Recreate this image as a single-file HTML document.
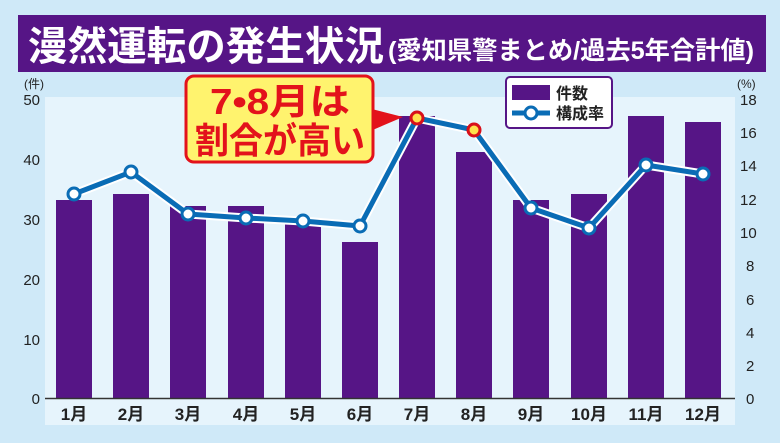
<!DOCTYPE html>
<html><head><meta charset="utf-8"><style>
html,body{margin:0;padding:0;}
body{width:780px;height:438px;overflow:hidden;background:#cfe9f8;}
svg text{font-family:"Liberation Sans","Noto Sans CJK JP",sans-serif;}
</style></head><body>
<svg width="780" height="438" viewBox="0 0 780 438" xmlns="http://www.w3.org/2000/svg">
<rect x="0" y="0" width="780" height="438" fill="#cfe9f8"/>
<rect x="18" y="15" width="748" height="57" fill="#561586"/>
<text x="28" y="60" font-size="40" font-weight="bold" fill="#fff" textLength="356" lengthAdjust="spacingAndGlyphs">漫然運転の発生状況</text>
<text x="388" y="59" font-size="25" font-weight="bold" fill="#fff" textLength="366" lengthAdjust="spacingAndGlyphs">(愛知県警まとめ/過去5年合計値)</text>
<rect x="45" y="97" width="690" height="328" fill="#e6f4fc"/>
<g fill="#561586">
<rect x="56" y="200" width="36" height="198"/>
<rect x="113" y="194" width="36" height="204"/>
<rect x="170" y="206" width="36" height="192"/>
<rect x="228" y="206" width="36" height="192"/>
<rect x="285" y="224" width="36" height="174"/>
<rect x="342" y="242" width="36" height="156"/>
<rect x="399" y="116" width="36" height="282"/>
<rect x="456" y="152" width="36" height="246"/>
<rect x="513" y="200" width="36" height="198"/>
<rect x="571" y="194" width="36" height="204"/>
<rect x="628" y="116" width="36" height="282"/>
<rect x="685" y="122" width="36" height="276"/>
</g>
<line x1="45" y1="398.5" x2="735" y2="398.5" stroke="#333" stroke-width="1.5"/>
<g font-size="15" fill="#222" text-anchor="end">
<text x="24" y="88" font-size="12" text-anchor="start">(件)</text>
<text x="40" y="105">50</text><text x="40" y="165">40</text><text x="40" y="225">30</text><text x="40" y="285">20</text><text x="40" y="345">10</text><text x="40" y="404">0</text>
</g>
<g font-size="15" fill="#222" text-anchor="start">
<text x="737" y="88" font-size="12">(%)</text>
<text x="740" y="105">18</text><text x="740" y="138">16</text><text x="740" y="171">14</text><text x="740" y="205">12</text><text x="740" y="238">10</text><text x="746" y="271">8</text><text x="746" y="305">6</text><text x="746" y="338">4</text><text x="746" y="371">2</text><text x="746" y="404">0</text>
</g>
<g font-size="17" font-weight="bold" fill="#222" text-anchor="middle">
<text x="74" y="420">1月</text><text x="131" y="420">2月</text><text x="188" y="420">3月</text><text x="246" y="420">4月</text><text x="303" y="420">5月</text><text x="360" y="420">6月</text><text x="417" y="420">7月</text><text x="474" y="420">8月</text><text x="531" y="420">9月</text><text x="589" y="420">10月</text><text x="646" y="420">11月</text><text x="703" y="420">12月</text>
</g>
<polyline points="74,194 131,172 188,214 246,218 303,221 360,226 417,118 474,130 531,208 589,228 646,165 703,174" fill="none" stroke="#fff" stroke-width="9" stroke-linejoin="round"/>
<polyline points="74,194 131,172 188,214 246,218 303,221 360,226 417,118 474,130 531,208 589,228 646,165 703,174" fill="none" stroke="#0a6cb5" stroke-width="5" stroke-linejoin="round"/>
<g fill="#fff" stroke="#0a6cb5" stroke-width="3">
<circle cx="74" cy="194" r="6"/><circle cx="131" cy="172" r="6"/><circle cx="188" cy="214" r="6"/><circle cx="246" cy="218" r="6"/><circle cx="303" cy="221" r="6"/><circle cx="360" cy="226" r="6"/><circle cx="531" cy="208" r="6"/><circle cx="589" cy="228" r="6"/><circle cx="646" cy="165" r="6"/><circle cx="703" cy="174" r="6"/>
</g>
<g fill="#ffe14d" stroke="#d8101a" stroke-width="3"><circle cx="417" cy="118" r="6"/><circle cx="474" cy="130" r="6"/></g>
<polygon points="368,108 403,117 368,132" fill="#e3121b"/>
<rect x="186" y="76" width="187" height="86" rx="8" fill="#fff36e" stroke="#e3121b" stroke-width="3"/>
<g font-size="36" font-weight="bold" fill="#e3121b">
<text x="210" y="114" textLength="140" lengthAdjust="spacingAndGlyphs">7•8月は</text><text x="195" y="153" textLength="170" lengthAdjust="spacingAndGlyphs">割合が高い</text>
</g>
<rect x="506" y="77" width="106" height="51" rx="4" fill="#fff" stroke="#561586" stroke-width="2"/>
<rect x="512" y="85" width="38" height="15" fill="#561586"/>
<line x1="512" y1="113" x2="550" y2="113" stroke="#0a6cb5" stroke-width="5"/>
<circle cx="531" cy="113" r="6" fill="#fff" stroke="#0a6cb5" stroke-width="3"/>
<text x="556" y="99" font-size="16" font-weight="bold" fill="#222">件数</text>
<text x="556" y="119" font-size="16" font-weight="bold" fill="#222">構成率</text>
</svg>
</body></html>
